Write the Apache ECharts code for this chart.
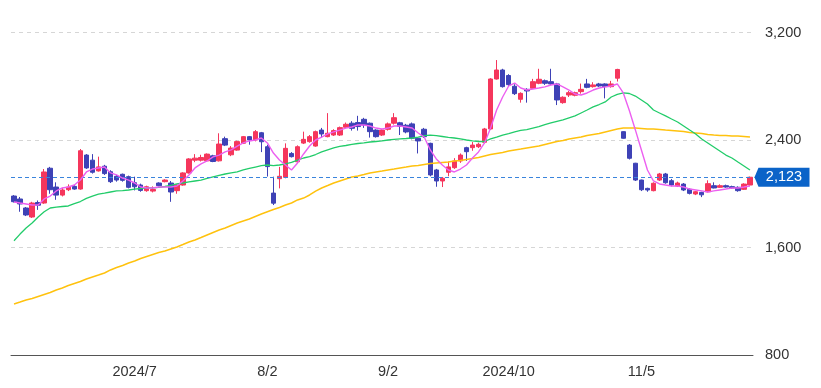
<!DOCTYPE html>
<html><head><meta charset="utf-8">
<script src="https://cdn.jsdelivr.net/npm/echarts@6/dist/echarts.min.js"></script>
<style>html,body{margin:0;padding:0;background:#fff}#c{width:821px;height:388px}</style>
</head><body><div id="c"></div>
<script>
const dates = [
'2024/06/03','2024/06/04','2024/06/05','2024/06/06','2024/06/07','2024/06/10','2024/06/11','2024/06/12','2024/06/13','2024/06/14',
'2024/06/17','2024/06/18','2024/06/19','2024/06/20','2024/06/21','2024/06/24','2024/06/25','2024/06/26','2024/06/27','2024/06/28',
'2024/07/01','2024/07/02','2024/07/03','2024/07/04','2024/07/05','2024/07/08','2024/07/09','2024/07/10','2024/07/11','2024/07/12',
'2024/07/16','2024/07/17','2024/07/18','2024/07/19','2024/07/22','2024/07/23','2024/07/24','2024/07/25','2024/07/26','2024/07/29',
'2024/07/30','2024/07/31',
'2024/08/02','2024/08/05','2024/08/06','2024/08/07','2024/08/08','2024/08/09','2024/08/13','2024/08/14','2024/08/15','2024/08/16',
'2024/08/19','2024/08/20','2024/08/21','2024/08/22','2024/08/23','2024/08/26','2024/08/27','2024/08/28','2024/08/29','2024/08/30',
'2024/09/02','2024/09/03','2024/09/04','2024/09/05','2024/09/06','2024/09/09','2024/09/10','2024/09/11','2024/09/12','2024/09/13',
'2024/09/17','2024/09/18','2024/09/19','2024/09/20','2024/09/23','2024/09/24','2024/09/25','2024/09/26','2024/09/27','2024/09/30',
'2024/10/01','2024/10/02','2024/10/03','2024/10/04','2024/10/07','2024/10/08','2024/10/09','2024/10/10','2024/10/11','2024/10/15',
'2024/10/16','2024/10/17','2024/10/18','2024/10/21','2024/10/22','2024/10/23','2024/10/24','2024/10/25','2024/10/28','2024/10/29',
'2024/10/30','2024/10/31',
'2024/11/05','2024/11/06','2024/11/07','2024/11/08','2024/11/11','2024/11/12','2024/11/13','2024/11/14','2024/11/15','2024/11/18',
'2024/11/19','2024/11/20','2024/11/21','2024/11/22','2024/11/25','2024/11/26','2024/11/27','2024/11/28','2024/11/29'
];
const tickDates = ['2024/07/01','2024/08/02','2024/09/02','2024/10/01','2024/11/05'];
const tickLabels = ['2024/7','8/2','9/2','2024/10','11/5'];
const yTicks = [800, 1600, 2400, 3200];

const open = [1983,1961,1894,1827,1935,1931,2190,2050,1990,2030,2055,2035,2288,2250,2170,2205,2164,2130,2145,2127,
2082,2065,2023,2020,2080,2090,2080,2023,2065,2155,2250,2250,2245,2282,2245,2410,2290,2325,2376,2425,
2400,2454,2350,2005,2112,2122,2300,2238,2377,2388,2355,2474,2425,2437,2437,2495,2525,2530,2554,2525,
2474,2437,2480,2525,2528,2510,2520,2413,2480,2375,2177,2095,2160,2194,2244,2343,2343,2350,2383,2482,
2854,2921,2880,2800,2703,2777,2785,2822,2841,2834,2817,2678,2735,2733,2760,2817,2797,2817,2817,2797,
2860,2462,2362,2227,2102,2040,2023,2102,2147,2097,2057,2072,2033,1998,2010,2015,2060,2048,2060,2053,
2048,2033,2065];
const close = [1941,1924,1842,1931,1915,2162,2030,1990,2028,2050,2035,2320,2192,2160,2200,2150,2090,2102,2100,2048,
2052,2025,2052,2032,2060,2102,2013,2065,2155,2259,2265,2270,2295,2240,2370,2362,2340,2388,2425,2400,
2462,2387,2202,1930,2130,2338,2276,2350,2405,2425,2462,2445,2450,2470,2492,2517,2487,2500,2512,2462,
2425,2474,2520,2566,2502,2460,2413,2393,2425,2140,2095,2115,2200,2244,2288,2313,2362,2368,2482,2854,
2921,2797,2812,2745,2747,2765,2834,2852,2822,2817,2698,2718,2752,2752,2777,2792,2810,2802,2797,2817,
2925,2413,2264,2102,2030,2028,2078,2147,2082,2065,2080,2028,2003,2015,1992,2075,2043,2060,2050,2043,
2023,2072,2123];
const low = [1935,1866,1834,1820,1880,1925,2000,1955,1980,2020,2030,2030,2185,2150,2165,2140,2080,2090,2090,2040,
2025,2015,2015,2010,2055,2085,1940,2000,2060,2150,2235,2240,2240,2235,2240,2355,2280,2320,2370,2365,
2390,2310,2128,1916,2040,2115,2270,2230,2370,2380,2350,2420,2420,2430,2430,2490,2470,2470,2490,2418,
2418,2430,2470,2515,2437,2450,2405,2300,2415,2130,2052,2050,2130,2185,2230,2244,2320,2340,2375,2475,
2850,2790,2800,2735,2678,2678,2780,2815,2810,2810,2660,2670,2720,2725,2745,2785,2790,2795,2710,2790,
2835,2410,2255,2095,2020,2015,2018,2095,2075,2055,2050,2020,1995,1990,1975,2010,2040,2045,2045,2038,
2015,2028,2060];
const high = [1990,1976,1901,1940,1950,2184,2200,2085,2045,2070,2065,2333,2295,2295,2276,2215,2175,2140,2150,2135,
2127,2075,2060,2055,2085,2108,2095,2070,2160,2265,2295,2290,2300,2290,2450,2425,2355,2395,2430,2430,
2474,2460,2365,2127,2200,2375,2310,2360,2462,2437,2470,2490,2600,2480,2500,2530,2540,2580,2565,2530,
2480,2480,2530,2600,2535,2520,2530,2420,2490,2380,2185,2125,2240,2265,2300,2350,2385,2380,2490,2860,
2995,2930,2890,2815,2755,2785,2855,2930,2850,2930,2825,2725,2765,2760,2820,2855,2830,2825,2822,2840,
2930,2465,2370,2230,2105,2045,2085,2155,2155,2110,2090,2080,2040,2020,2015,2100,2085,2070,2068,2060,
2055,2078,2128];

const ma5 = [1939,1931,1924,1916,1916,1961,1983,2021,2043,2050,2065,2102,2162,2184,2192,2199,2155,2140,2117,2102,
2080,2050,2043,2043,2050,2050,2050,2058,2095,2140,2192,2222,2244,2274,2288,2311,2326,2355,2378,2393,
2400,2415,2378,2303,2251,2214,2177,2229,2296,2355,2400,2422,2445,2460,2474,2489,2497,2512,2512,2504,
2489,2482,2489,2504,2504,2497,2489,2452,2422,2326,2259,2214,2177,2162,2184,2214,2266,2311,2378,2489,
2623,2720,2802,2824,2787,2772,2780,2787,2795,2809,2817,2795,2772,2742,2735,2750,2772,2787,2795,2802,
2817,2750,2620,2475,2326,2177,2095,2073,2065,2058,2058,2050,2035,2028,2021,2013,2021,2028,2035,2043,
2043,2050,2058];
const ma25 = [1650,1700,1745,1782,1827,1866,1894,1901,1905,1909,1927,1942,1965,1983,1998,2005,2013,2021,2024,2028,
2035,2039,2043,2043,2047,2054,2062,2073,2080,2088,2095,2102,2114,2125,2136,2147,2155,2162,2177,2188,
2199,2210,2214,2210,2214,2222,2233,2251,2266,2277,2292,2311,2326,2341,2352,2359,2367,2374,2378,2385,
2389,2393,2400,2404,2408,2411,2415,2422,2433,2437,2433,2426,2419,2415,2408,2400,2393,2389,2389,2408,
2422,2437,2448,2460,2471,2478,2489,2500,2515,2527,2538,2549,2564,2579,2601,2623,2646,2664,2683,2720,
2739,2750,2746,2727,2698,2668,2623,2601,2579,2556,2534,2504,2474,2445,2408,2378,2348,2318,2288,2266,
2236,2207,2177];
const ma75 = [1180,1194,1209,1220,1235,1250,1265,1284,1299,1317,1332,1347,1366,1381,1395,1410,1433,1451,1466,1485,
1500,1518,1533,1548,1563,1574,1589,1604,1622,1641,1656,1674,1693,1712,1730,1745,1764,1782,1797,1812,
1831,1849,1866,1883,1898,1916,1931,1954,1968,1991,2020,2043,2061,2080,2095,2110,2125,2132,2143,2155,
2162,2169,2177,2184,2192,2199,2207,2210,2218,2225,2229,2233,2236,2244,2247,2255,2262,2270,2281,2292,
2300,2307,2318,2326,2333,2341,2348,2355,2367,2378,2389,2396,2408,2415,2422,2434,2441,2448,2460,2471,
2482,2489,2489,2489,2486,2482,2482,2478,2474,2471,2467,2463,2456,2452,2448,2441,2437,2434,2434,2430,
2430,2426,2422];

const lastPrice = close[close.length - 1];
const candles = dates.map((d, i) => [open[i], close[i], low[i], high[i]]);
const fmt = v => Number(v).toLocaleString('en-US');
const FONT = 'Liberation Sans, Arial, sans-serif';

const chart = echarts.init(document.getElementById('c'));
chart.setOption({
  animation: false,
  grid: { left: 11, right: 68, top: 32.5, bottom: 33 },
  xAxis: {
    type: 'category', data: dates, boundaryGap: true,
    axisLine: { lineStyle: { color: '#555', width: 1 } },
    axisTick: { show: false },
    splitLine: { show: false },
    axisLabel: {
      interval: (i, v) => tickDates.includes(v),
      formatter: v => { const k = tickDates.indexOf(v); return k >= 0 ? tickLabels[k] : ''; },
      color: '#333', fontSize: 14.5, fontFamily: FONT, margin: 9
    }
  },
  yAxis: {
    type: 'value', position: 'right', min: yTicks[0], max: yTicks[yTicks.length - 1], interval: 800,
    axisLine: { show: false }, axisTick: { show: false },
    splitLine: { lineStyle: { color: '#d6d6d6', type: [4, 4], width: 1 } },
    axisLabel: { formatter: v => fmt(v), color: '#333', fontSize: 14.5, fontFamily: FONT, margin: 12 }
  },
  series: [
    {
      type: 'candlestick', data: candles, barWidth: 5, z: 2,
      itemStyle: { color: '#f5365c', color0: '#3e42b6', borderColor: '#f5365c', borderColor0: '#3e42b6', borderWidth: 1 }
    },
    { type: 'line', data: ma75, showSymbol: false, symbol: 'none', lineStyle: { color: '#ffc20e', width: 1.5 }, z: 3 },
    { type: 'line', data: ma25, showSymbol: false, symbol: 'none', lineStyle: { color: '#22cc6a', width: 1.3 }, z: 4 },
    { type: 'line', data: ma5, showSymbol: false, symbol: 'none', lineStyle: { color: '#ec5ff0', width: 1.4 }, z: 5 },
    {
      type: 'line', data: [], z: 6, clip: false,
      itemStyle: { color: '#3a84dc' },
      markLine: {
        silent: true, symbol: ['none', 'none'],
        label: { show: false },
        lineStyle: { color: '#3a84dc', type: [4, 3], width: 1 },
        data: [{ yAxis: lastPrice }]
      },
      markPoint: {
        silent: true,
        symbol: 'path://M0,9.5 L4,0 L55,0 L55,19 L4,19 Z',
        symbolSize: [55, 19], symbolKeepAspect: false,
        symbolOffset: [32, 0],
        itemStyle: { color: '#0b63c8' },
        label: { show: true, position: 'inside', offset: [2, 0], formatter: () => fmt(lastPrice), color: '#fff', fontSize: 14.5, fontFamily: FONT },
        data: [{ coord: [dates[dates.length - 1], lastPrice], value: lastPrice }]
      }
    }
  ]
});
</script></body></html>
